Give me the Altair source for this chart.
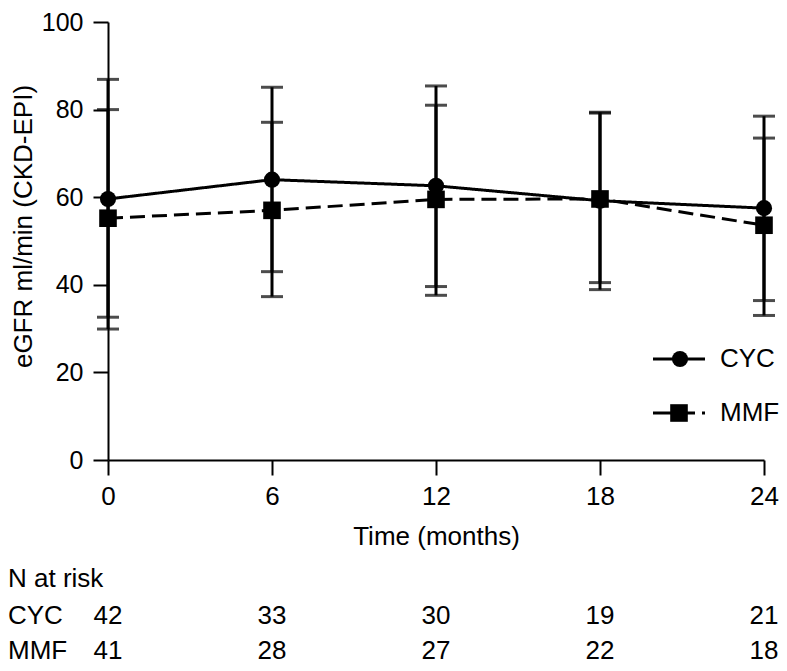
import altair as alt
import pandas as pd

# ---- data ----
months = [0, 6, 12, 18, 24]
cyc_mean = [59.6, 64.0, 62.6, 59.2, 57.5]
cyc_low = [32.6, 43.0, 39.6, 38.9, 36.4]
cyc_high = [86.9, 85.1, 85.4, 79.4, 78.5]
mmf_mean = [55.2, 57.0, 59.5, 59.6, 53.6]
mmf_low = [29.9, 37.3, 37.6, 40.5, 33.0]
mmf_high = [80.0, 77.1, 81.0, 79.2, 73.5]
n_cyc = [42, 33, 30, 19, 21]
n_mmf = [41, 28, 27, 22, 18]
x_ticks = [0, 6, 12, 18, 24]
y_ticks = [0, 20, 40, 60, 80, 100]

FONT = "Liberation Sans"
FS = 26

cyc = pd.DataFrame({"t": months, "m": cyc_mean, "lo": cyc_low, "hi": cyc_high})
mmf = pd.DataFrame({"t": months, "m": mmf_mean, "lo": mmf_low, "hi": mmf_high})

xs = alt.Scale(domain=[0, 24], nice=False, zero=False)
ys = alt.Scale(domain=[0, 100], nice=False)

X = alt.X("t:Q", scale=xs, axis=alt.Axis(
    values=x_ticks, title="Time (months)", titleY=76, titleBaseline="middle",
    tickSize=15, labelPadding=8, labelFlush=False))
Y = alt.Y("m:Q", scale=ys, axis=alt.Axis(
    values=y_ticks, title="eGFR ml/min (CKD-EPI)", titleX=-85, titleY=204,
    titleAngle=-90, titleBaseline="middle", titleAlign="center",
    tickSize=15, labelPadding=10, labelFlush=False, labelFontSize=25))

def series(df, dash, shape, size):
    base = alt.Chart(df)
    err = base.mark_rule(color="black", strokeWidth=3).encode(
        x=alt.X("t:Q", scale=xs), y=alt.Y("lo:Q", scale=ys), y2="hi:Q")
    cap_lo = base.mark_tick(color="black", orient="horizontal", size=22, thickness=3).encode(
        x=alt.X("t:Q", scale=xs), y=alt.Y("lo:Q", scale=ys))
    cap_hi = base.mark_tick(color="black", orient="horizontal", size=22, thickness=3).encode(
        x=alt.X("t:Q", scale=xs), y=alt.Y("hi:Q", scale=ys))
    line = base.mark_line(color="black", strokeWidth=3, strokeDash=dash).encode(x=X, y=Y)
    pts = base.mark_point(shape=shape, filled=True, size=size, color="black", opacity=1).encode(x=X, y=Y)
    return [err, cap_lo, cap_hi, line, pts]

layers = series(cyc, [1, 0], "circle", 260) + series(mmf, [15, 7], "square", 310)

# ---- legend ----
leg = pd.DataFrame({"d": [0]})
leg_cyc_line = alt.Chart(leg).mark_rule(color="black", strokeWidth=3).encode(
    x=alt.value(545), x2=alt.value(597), y=alt.value(337))
leg_cyc_pt = alt.Chart(leg).mark_point(shape="circle", filled=True, size=260, color="black", opacity=1).encode(
    x=alt.value(572), y=alt.value(337))
leg_cyc_txt = alt.Chart(leg).mark_text(text="CYC", font=FONT, fontSize=FS, align="left", baseline="middle").encode(
    x=alt.value(612), y=alt.value(337))
leg_mmf_line = alt.Chart(leg).mark_rule(color="black", strokeWidth=3, strokeDash=[42, 7, 3, 200]).encode(
    x=alt.value(545), x2=alt.value(597), y=alt.value(391))
leg_mmf_pt = alt.Chart(leg).mark_point(shape="square", filled=True, size=310, color="black", opacity=1).encode(
    x=alt.value(571), y=alt.value(391))
leg_mmf_txt = alt.Chart(leg).mark_text(text="MMF", font=FONT, fontSize=FS, align="left", baseline="middle").encode(
    x=alt.value(612), y=alt.value(391))

# ---- N at risk table ----
risk = pd.DataFrame({
    "t": months * 2,
    "n": [str(v) for v in n_cyc] + [str(v) for v in n_mmf],
    "row": [594] * 5 + [629] * 5,
})
risk_nums = alt.Chart(risk).mark_text(font=FONT, fontSize=FS, align="center", baseline="middle").encode(
    x=alt.X("t:Q", scale=xs), y=alt.Y("row:Q", scale=None), text="n:N")
row_labels = pd.DataFrame({"lab": ["N at risk", "CYC", "MMF"], "row": [557, 594, 629]})
risk_labels = alt.Chart(row_labels).mark_text(font=FONT, fontSize=FS, align="left", baseline="middle").encode(
    x=alt.value(-100), y=alt.Y("row:Q", scale=None), text="lab:N")

chart = alt.layer(
    *layers,
    leg_cyc_line, leg_cyc_pt, leg_cyc_txt, leg_mmf_line, leg_mmf_pt, leg_mmf_txt,
    risk_nums, risk_labels,
).properties(
    width=656, height=438,
    padding={"left": 100, "top": 14, "right": 15, "bottom": 205},
    autosize=alt.AutoSizeParams(type="none"),
).configure_view(stroke=None).configure_axis(
    grid=False, domainColor="black", domainWidth=2, tickColor="black", tickWidth=2,
    labelColor="black", labelFont=FONT, labelFontSize=FS, titleFont=FONT,
    titleFontSize=FS, titleFontWeight="normal", titleColor="black",
)

chart.save("out.html", embed_options={"renderer": "svg", "actions": False})
